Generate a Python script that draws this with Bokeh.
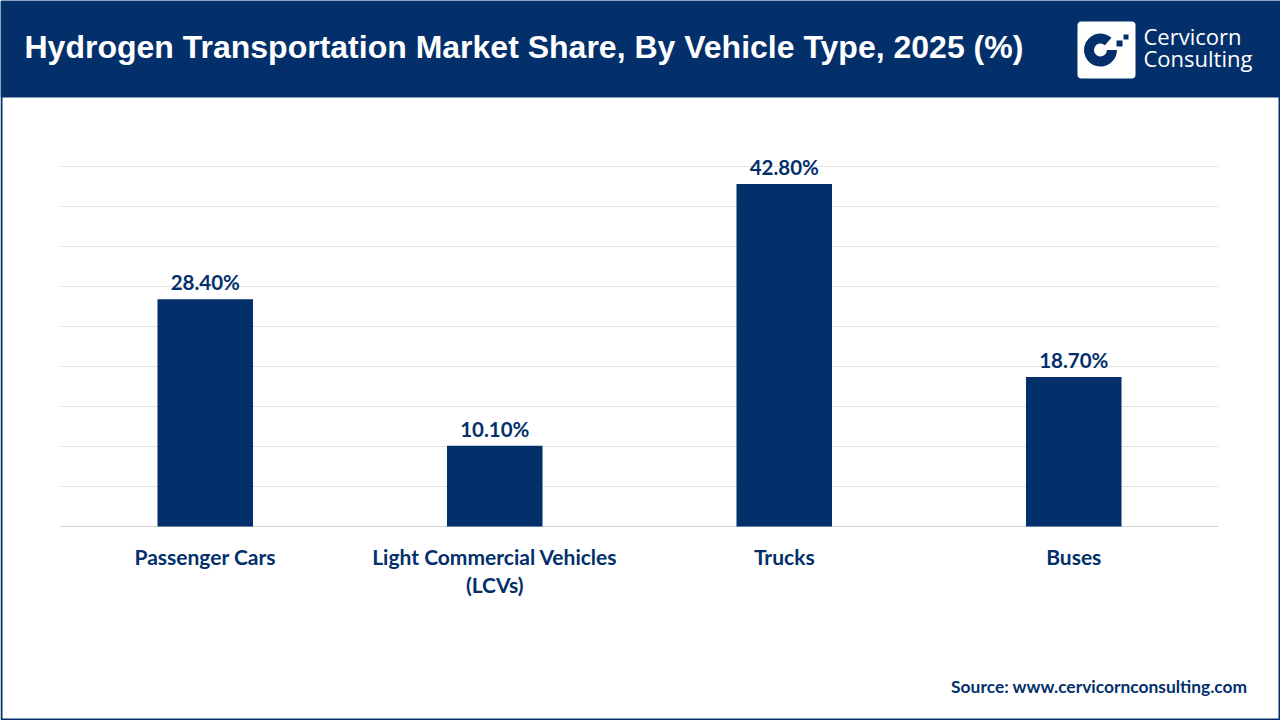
from bokeh.plotting import figure
from bokeh.models import Range1d, ColumnDataSource
from bokeh.core.properties import value
from bokeh.embed import file_html
from bokeh.resources import INLINE

# Market share by vehicle type, 2025 (%)
categories = ["Passenger Cars", "Light Commercial Vehicles\n(LCVs)", "Trucks", "Buses"]
shares = [28.4, 10.1, 42.8, 18.7]
share_labels = ["28.40%", "10.10%", "42.80%", "18.70%"]
grid_ticks = [5, 10, 15, 20, 25, 30, 35, 40, 45]

NAVY = "#03306b"
GRID = "#e3e3e3"
W, H = 1280, 720

# plot area geometry (pixels) used to derive the data ranges
LEFT, RIGHT, BASE = 60, 1218, 526
UNIT_X = (RIGHT - LEFT) / len(categories)   # px per category slot
UNIT_Y = 8.0                                # px per percentage point

x_range = Range1d(-0.5 - LEFT / UNIT_X, len(categories) - 0.5 + (W - RIGHT) / UNIT_X)
y_range = Range1d(-(H - BASE) / UNIT_Y, BASE / UNIT_Y)

p = figure(
    width=W, height=H, x_range=x_range, y_range=y_range,
    x_axis_location=None, y_axis_location=None,
    output_backend="svg", toolbar_location=None,
    min_border=0, outline_line_color=None,
    background_fill_color="white", border_fill_color="white",
)
p.grid.grid_line_color = None

# pixel-space ranges for page furniture (y measured from the bottom)
p.extra_x_ranges = {"px": Range1d(0, W)}
p.extra_y_ranges = {"px": Range1d(0, H)}
PX = dict(x_range_name="px", y_range_name="px")

xpos = list(range(len(categories)))
src = ColumnDataSource(dict(x=xpos, cat=categories, share=shares, label=share_labels))

# horizontal gridlines and baseline
n = len(categories)
p.segment(x0=[-0.5] * len(grid_ticks), x1=[n - 0.5] * len(grid_ticks),
          y0=grid_ticks, y1=grid_ticks, line_color=GRID, line_width=1)
p.segment(x0=[-0.5], x1=[n - 0.5], y0=[0], y1=[0], line_color="#d4d4d4", line_width=1)

# bars and value labels
p.vbar(x="x", top="share", width=0.33, source=src, fill_color=NAVY, line_color=None)
p.text(x="x", y="share", text="label", source=src, y_offset=-5,
       text_align="center", text_baseline="bottom",
       text_font=value("Lato"), text_font_style="bold", text_font_size="20.5px",
       text_color=NAVY)

# category labels under the baseline
p.text(x="x", y=0, text="cat", source=src, y_offset=17,
       text_align="center", text_baseline="top", text_line_height=1.15,
       text_font=value("Lato"), text_font_style="bold", text_font_size="21px",
       text_color=NAVY)

# header band and title
p.quad(left=[0], right=[W], top=[H], bottom=[H - 97], fill_color=NAVY, line_color=None, **PX)
p.text(x=[24], y=[H - 46], text=["Hydrogen Transportation Market Share, By Vehicle Type, 2025 (%)"],
       text_font=value("Liberation Sans"), text_font_style="bold", text_font_size="32px",
       text_color="white", text_baseline="middle", **PX)

# brand mark
p.quad(left=[1077], right=[1135], top=[H - 21], bottom=[H - 78],
       fill_color="white", line_color=None, border_radius=4, **PX)
p.annular_wedge(x=[1100], y=[H - 49.5], inner_radius=6.5, outer_radius=16.5,
                start_angle=48, end_angle=360,
                start_angle_units="deg", end_angle_units="deg",
                fill_color=NAVY, line_color=None, **PX)
p.quad(left=[1116, 1123], right=[1122, 1128], top=[H - 40, H - 34], bottom=[H - 46, H - 39],
       fill_color=NAVY, line_color=None, **PX)
p.text(x=[1143, 1143], y=[H - 35, H - 57], text=["Cervicorn", "Consulting"],
       text_font=value("Open Sans"), text_font_size="22px",
       text_color="white", text_baseline="middle", **PX)

# source note
p.text(x=[1247], y=[H - 686], text=["Source: www.cervicornconsulting.com"],
       text_font=value("Lato"), text_font_style="bold", text_font_size="17.4px",
       text_color=NAVY, text_align="right", text_baseline="middle", **PX)

# outer frame line
p.quad(left=[1], right=[W - 1], top=[H - 1], bottom=[1],
       fill_alpha=0, line_color=NAVY, line_width=2, **PX)

open("out.html", "w").write(file_html(p, INLINE))
